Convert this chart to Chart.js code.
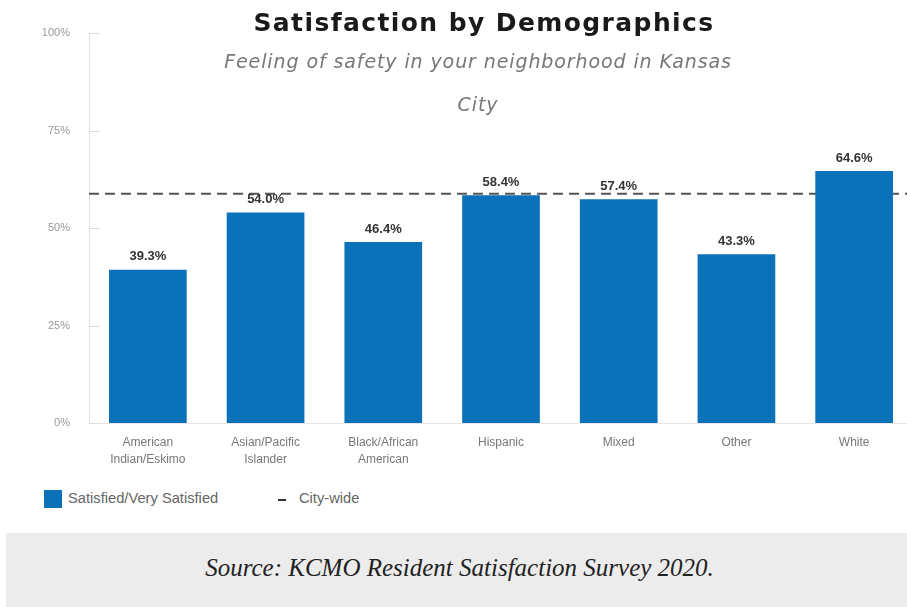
<!DOCTYPE html>
<html lang="en">

<head>
    <meta charset="UTF-8" />
    <title>Satisfaction by Demographics</title>
    <script src="https://cdn.jsdelivr.net/npm/chart.js"></script>
    <style>
        html, body { margin: 0; padding: 0; width: 907px; height: 607px; overflow: hidden; background: #fff; }
        #grafico { position: absolute; left: 0; top: 0; }
        .titulo { position: absolute; left: 0; width: 968px; text-align: center; font-family: "DejaVu Sans", sans-serif; font-weight: 700; font-size: 25px; letter-spacing: 1.4px; color: #1a1a1a; top: 8px; }
        .sub { position: absolute; left: 0; width: 956px; text-align: center; font-family: "DejaVu Sans", sans-serif; font-style: italic; font-size: 19px; letter-spacing: 0.9px; color: #777; }
        .legenda { position: absolute; top: 489px; left: 44px; font-family: "Liberation Sans", Arial, sans-serif; font-size: 14.7px; color: #666; }
        .legenda .cx { position: absolute; left: 0; top: 1px; width: 18px; height: 18px; background: #0b72ba; }
        .legenda .t1 { position: absolute; left: 24px; top: 1px; white-space: nowrap; }
        .legenda .tr { position: absolute; left: 234px; top: 10px; width: 8px; height: 2px; background: #333; }
        .legenda .t2 { position: absolute; left: 255px; top: 1px; white-space: nowrap; }
        .fonte { position: absolute; left: 6px; top: 533px; width: 901px; height: 74px; background: #ececec; }
        .fonte span { position: absolute; left: 0; width: 907px; top: 21px; text-align: center; font-family: "Liberation Serif", serif; font-style: italic; font-size: 25px; color: #222; }
    </style>
</head>

<body>
    <canvas id="grafico" width="960" height="475"></canvas>
    <div class="titulo">Satisfaction by Demographics</div>
    <div class="sub" style="top: 50px;">Feeling of safety in your neighborhood in Kansas</div>
    <div class="sub" style="top: 93px;">City</div>
    <div class="legenda">
        <div class="cx"></div><span class="t1">Satisfied/Very Satisfied</span>
        <div class="tr"></div><span class="t2">City-wide</span>
    </div>
    <div class="fonte"><span>Source: KCMO Resident Satisfaction Survey 2020.</span></div>

    <script>
        // dados
        const categorias = [
            ['American', 'Indian/Eskimo'],
            ['Asian/Pacific', 'Islander'],
            ['Black/African', 'American'],
            'Hispanic',
            'Mixed',
            'Other',
            'White'
        ];
        const satisfeitos = [39.3, 54.0, 46.4, 58.4, 57.4, 43.3, 64.6];
        const mediaCidade = 58.8;
        const ticksY = [0, 25, 50, 75, 100];

        const azul = '#0b72ba';

        // linha tracejada da media da cidade (atras das barras)
        const linhaMedia = {
            id: 'linhaMedia',
            beforeDatasetsDraw(chart) {
                const ctx = chart.ctx;
                const area = chart.chartArea;
                const y = chart.scales.y.getPixelForValue(mediaCidade);
                ctx.save();
                ctx.strokeStyle = '#555';
                ctx.lineWidth = 2;
                ctx.setLineDash([10, 6]);
                ctx.beginPath();
                ctx.moveTo(area.left, y);
                ctx.lineTo(area.right, y);
                ctx.stroke();
                ctx.restore();
            }
        };

        // marcas do eixo y para dentro + rotulos das barras
        const rotulos = {
            id: 'rotulos',
            afterDatasetsDraw(chart) {
                const ctx = chart.ctx;
                const area = chart.chartArea;
                const escalaY = chart.scales.y;
                ctx.save();
                ctx.strokeStyle = '#ddd';
                ctx.lineWidth = 1;
                for (let i = 0; i < ticksY.length; i++) {
                    const y = Math.round(escalaY.getPixelForValue(ticksY[i])) + 0.5;
                    ctx.beginPath();
                    ctx.moveTo(area.left, y);
                    ctx.lineTo(area.left + 11, y);
                    ctx.stroke();
                }

                const meta = chart.getDatasetMeta(0);
                ctx.fillStyle = '#333';
                ctx.font = 'bold 13px "Liberation Sans", Arial, sans-serif';
                ctx.textAlign = 'center';
                ctx.textBaseline = 'middle';
                for (let i = 0; i < meta.data.length; i++) {
                    const barra = meta.data[i];
                    ctx.fillText(satisfeitos[i].toFixed(1) + '%', barra.x, barra.y - 13);
                }
                ctx.restore();
            }
        };

        const ctx = document.getElementById('grafico');
        new Chart(ctx, {
            type: 'bar',
            data: {
                labels: categorias,
                datasets: [{
                    label: 'Satisfied/Very Satisfied',
                    data: satisfeitos,
                    backgroundColor: azul,
                    borderWidth: 0,
                    categoryPercentage: 1,
                    barPercentage: 0.66
                }]
            },
            options: {
                responsive: false,
                animation: false,
                devicePixelRatio: 1,
                layout: { padding: { left: 0, top: 33, right: 47, bottom: 0 } },
                plugins: {
                    legend: { display: false },
                    title: { display: false },
                    tooltip: { enabled: false }
                },
                scales: {
                    x: {
                        grid: { display: false },
                        border: { display: true, color: '#e6e6e6', width: 1 },
                        ticks: {
                            padding: 4,
                            color: '#777',
                            maxRotation: 0,
                            font: { family: '"Liberation Sans", Arial, sans-serif', size: 12, lineHeight: 1.35 }
                        },
                        afterFit(scale) { scale.height = 52; }
                    },
                    y: {
                        min: 0,
                        max: 100,
                        grid: { display: false, drawTicks: false },
                        border: { display: true, color: '#e0e0e0', width: 1 },
                        ticks: {
                            stepSize: 25,
                            padding: 19,
                            color: '#999',
                            font: { family: '"Liberation Sans", Arial, sans-serif', size: 11 },
                            callback: function (v) { return v + '%'; }
                        },
                        afterFit(scale) { scale.width = 89; }
                    }
                }
            },
            plugins: [linhaMedia, rotulos]
        });
    </script>
</body>

</html>
